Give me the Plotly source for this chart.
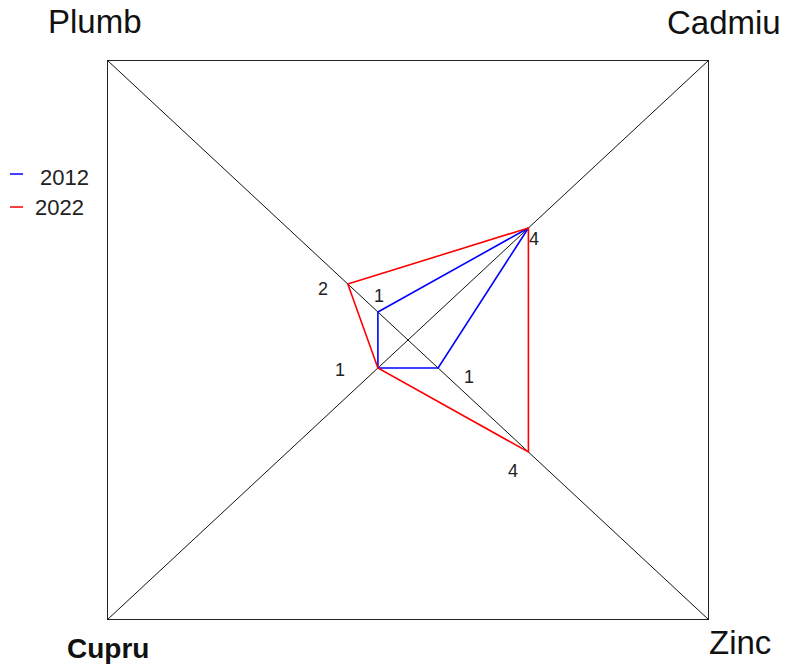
import plotly.graph_objects as go

# ---- data ----
axes_names = ["Plumb", "Cadmiu", "Zinc", "Cupru"]
series_names = ["2012", "2022"]
values_2012 = [1, 4, 1, 1]
values_2022 = [2, 4, 4, 1]
axis_max = 10

# ---- styles ----
series_colors = {"2012": "#0000ff", "2022": "#ff0000"}
directions = {"Plumb": (-1, 1), "Cadmiu": (1, 1), "Zinc": (1, -1), "Cupru": (-1, -1)}
# pixel offsets of value labels (style only)
label_shift = {
    ("2012", "Plumb"): (1, 16),
    ("2022", "Plumb"): (-25, -5),
    ("2012", "Cadmiu"): (6, -11),
    ("2022", "Cadmiu"): (6, -11),
    ("2012", "Zinc"): (31, -9),
    ("2022", "Zinc"): (-15, -19),
    ("2012", "Cupru"): (-38, -2),
    ("2022", "Cupru"): (-38, -2),
}
FONT = "Liberation Sans, Arial, sans-serif"

W, H = 785, 666
PL, PT, PW, PH = 107, 60, 602, 560  # plot area in window pixels


def px(xw):
    return (xw - PL) / PW


def py(yw):
    return 1 - (yw - PT) / PH


fig = go.Figure()

# frame and diagonals
corner_x = [directions[a][0] * axis_max for a in axes_names]
corner_y = [directions[a][1] * axis_max for a in axes_names]
fig.add_trace(go.Scatter(x=corner_x + [corner_x[0]], y=corner_y + [corner_y[0]],
                         mode="lines", line=dict(color="#222222", width=2),
                         hoverinfo="skip", showlegend=False))
for i in range(2):
    fig.add_trace(go.Scatter(x=[corner_x[i], corner_x[i + 2]], y=[corner_y[i], corner_y[i + 2]],
                             mode="lines", line=dict(color="#111111", width=1),
                             hoverinfo="skip", showlegend=False))

annotations = []
labeled = {}
for name, vals in zip(series_names, [values_2012, values_2022]):
    xs = [directions[a][0] * v for a, v in zip(axes_names, vals)]
    ys = [directions[a][1] * v for a, v in zip(axes_names, vals)]
    fig.add_trace(go.Scatter(x=xs + [xs[0]], y=ys + [ys[0]], mode="lines", name=name,
                             line=dict(color=series_colors[name], width=1.6),
                             showlegend=False))
    for a, v, x, y in zip(axes_names, vals, xs, ys):
        if labeled.get(a) == v:
            continue
        labeled[a] = v
        dx, dy = label_shift[(name, a)]
        annotations.append(dict(x=x, y=y, xref="x", yref="y", text=str(v), showarrow=False,
                                xshift=dx, yshift=dy,
                                font=dict(family=FONT, size=18, color="#222222")))

# corner labels (window pixel centres)
corner_label_pos = {
    "Plumb": dict(x=95, y=21, bold=False, size=33),
    "Cadmiu": dict(x=724, y=22, bold=False, size=33),
    "Cupru": dict(x=108, y=648, bold=True, size=28),
    "Zinc": dict(x=740, y=642, bold=False, size=33),
}
for a in axes_names:
    p = corner_label_pos[a]
    txt = f"<b>{a}</b>" if p["bold"] else a
    annotations.append(dict(x=px(p["x"]), y=py(p["y"]), xref="paper", yref="paper",
                            text=txt, showarrow=False, xanchor="center", yanchor="middle",
                            font=dict(family=FONT, size=p["size"], color="#111111")))

# legend (manual)
legend_rows = {"2012": dict(line_y=174, text_x=38, text_y=177),
               "2022": dict(line_y=207, text_x=33, text_y=208)}
shapes = []
for name in series_names:
    r = legend_rows[name]
    shapes.append(dict(type="line", xref="paper", yref="paper",
                       x0=px(10), x1=px(23), y0=py(r["line_y"]), y1=py(r["line_y"]),
                       line=dict(color=series_colors[name], width=1.5)))
    annotations.append(dict(x=px(r["text_x"]), y=py(r["text_y"]), xref="paper", yref="paper",
                            text=name, showarrow=False, xanchor="left", yanchor="middle",
                            font=dict(family=FONT, size=22, color="#222222")))

fig.update_layout(
    width=W, height=H,
    margin=dict(l=PL, r=W - PL - PW, t=PT, b=H - PT - PH),
    paper_bgcolor="white", plot_bgcolor="white",
    xaxis=dict(range=[-axis_max, axis_max], visible=False, fixedrange=True),
    yaxis=dict(range=[-axis_max, axis_max], visible=False, fixedrange=True),
    annotations=annotations, shapes=shapes, showlegend=False,
)
fig.write_html("out.html", config=dict(displayModeBar=False, staticPlot=True),
               post_script="document.body.style.margin='0';document.body.style.padding='0';"
                           "document.body.style.overflow='hidden';")
